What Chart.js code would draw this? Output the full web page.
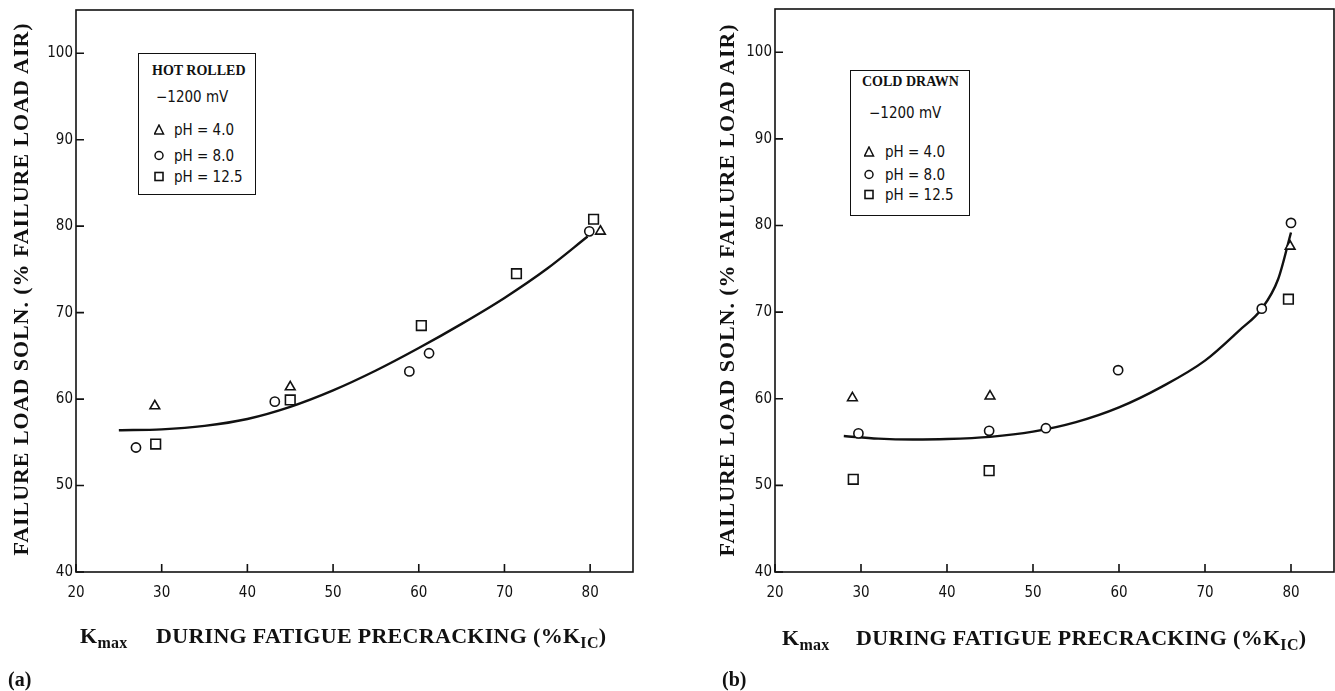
<!DOCTYPE html>
<html>
<head>
<meta charset="utf-8">
<script src="https://cdn.jsdelivr.net/npm/chart.js@4.4.1/dist/chart.umd.min.js"></script>
<style>
  body { margin: 0; background: #fff; overflow: hidden; }
  #page { position: relative; width: 1335px; height: 691px; }
  canvas { position: absolute; top: 0; }
  .ytitle {
    position: absolute; width: 560px; height: 24px; line-height: 24px;
    text-align: center; white-space: nowrap; transform: rotate(-90deg);
    font: bold 22px 'Liberation Serif', serif; letter-spacing: 0.95px; color: #111;
  }
  .xtitle {
    position: absolute; white-space: nowrap; line-height: 24px; letter-spacing: 0.3px;
    font: bold 22px 'Liberation Serif', serif; color: #111;
  }
  .xtitle sub { font-size: 16px; vertical-align: -5px; line-height: 0; }
  .panel { position: absolute; font: bold 20px 'Liberation Serif', serif; color: #111; }
  .legend { position: absolute; border: 1.6px solid #111; background: #fff; color: #111; }
  .legend div { position: absolute; white-space: nowrap; line-height: 18px; }
  .legend .head { font: bold 14px 'Liberation Serif', serif; }
  .legend .mv, .legend .row { font: 15px 'DejaVu Sans Condensed', 'Liberation Sans Narrow', sans-serif; }
  .legend svg { position: absolute; }
</style>
</head>
<body>
<div id="page">
  <canvas id="chartA" width="667" height="691" style="left:0"></canvas>
  <canvas id="chartB" width="668" height="691" style="left:667px"></canvas>

  <div class="ytitle" style="left:-260px; top:277px">FAILURE LOAD SOLN. (% FAILURE LOAD AIR)</div>
  <div class="ytitle" style="left:446px; top:278px">FAILURE LOAD SOLN. (% FAILURE LOAD AIR)</div>

  <div class="xtitle" style="left:80px; top:623px">K<sub>max</sub></div>
  <div class="xtitle" style="left:156px; top:623px">DURING FATIGUE PRECRACKING (%K<sub>IC</sub>)</div>
  <div class="xtitle" style="left:782px; top:625px">K<sub>max</sub></div>
  <div class="xtitle" style="left:856px; top:625px">DURING FATIGUE PRECRACKING (%K<sub>IC</sub>)</div>

  <div class="panel" style="left:8px; top:668px">(a)</div>
  <div class="panel" style="left:722px; top:668px">(b)</div>

  <div class="legend" id="legendA" style="left:138px; top:53px; width:116px; height:140px"></div>
  <div class="legend" id="legendB" style="left:850px; top:70px; width:118px; height:144px"></div>
</div>

<script>
// axis ticks
const xTicks = [20, 30, 40, 50, 60, 70, 80];
const yTicks = [40, 50, 60, 70, 80, 90, 100];
const seriesLabels = ['pH = 4.0', 'pH = 8.0', 'pH = 12.5'];
const seriesStyles = ['triangle', 'circle', 'rect'];

// (a) hot rolled
const hotPh4X = [29.2, 45.0, 81.2];
const hotPh4Y = [59.2, 61.4, 79.4];
const hotPh8X = [27.0, 43.2, 58.9, 61.2, 79.9];
const hotPh8Y = [54.4, 59.7, 63.2, 65.3, 79.4];
const hotPh125X = [29.3, 45.0, 60.3, 71.4, 80.4];
const hotPh125Y = [54.8, 59.9, 68.5, 74.5, 80.8];
const hotFitX = [25, 30, 35, 40, 45, 50, 55, 60, 65, 70, 75, 79.7];
const hotFitY = [56.4, 56.5, 56.9, 57.7, 59.1, 61.0, 63.3, 65.9, 68.7, 71.7, 75.1, 78.8];

// (b) cold drawn
const coldPh4X = [29.0, 45.0, 79.9];
const coldPh4Y = [60.1, 60.3, 77.6];
const coldPh8X = [29.7, 44.9, 51.5, 59.9, 76.6, 80.0];
const coldPh8Y = [56.0, 56.3, 56.6, 63.3, 70.4, 80.3];
const coldPh125X = [29.1, 44.9, 79.7];
const coldPh125Y = [50.7, 51.7, 71.5];
const coldFitX = [28, 32, 36, 40, 45, 50, 55, 60, 65, 70, 74, 76.6, 78.5, 80];
const coldFitY = [55.7, 55.4, 55.3, 55.35, 55.6, 56.2, 57.3, 59.0, 61.4, 64.4, 67.9, 70.4, 73.8, 79.2];

const ink = '#111';
const tickFont = { family: "'DejaVu Sans Condensed', 'Liberation Sans Narrow', sans-serif", size: 15 };

function pts(xs, ys) {
    return xs.map((x, i) => ({ x: x, y: ys[i] }));
}

// frame round the plot and short ticks pointing inwards
const framePlugin = {
    id: 'frame',
    afterDraw(chart) {
        const { ctx, chartArea: a, scales } = chart;
        ctx.save();
        ctx.strokeStyle = ink;
        ctx.lineWidth = 1.6;
        ctx.strokeRect(a.left, a.top, a.right - a.left, a.bottom - a.top);
        ctx.beginPath();
        for (const t of scales.x.ticks) {
            const px = scales.x.getPixelForValue(t.value);
            ctx.moveTo(px, a.bottom);
            ctx.lineTo(px, a.bottom - 8);
        }
        for (const t of scales.y.ticks) {
            const py = scales.y.getPixelForValue(t.value);
            ctx.moveTo(a.left, py);
            ctx.lineTo(a.left + 8, py);
        }
        ctx.stroke();
        ctx.restore();
    }
};

function makeChart(id, series, fit, yWidth, pad) {
    const datasets = series.map((s, i) => ({
        type: 'scatter',
        label: seriesLabels[i],
        data: pts(s[0], s[1]),
        pointStyle: seriesStyles[i],
        pointRadius: i === 2 ? 6.8 : (i === 0 ? 5.6 : 4.6),
        pointBorderWidth: 1.6,
        pointBorderColor: ink,
        pointBackgroundColor: '#fff',
        order: 0
    }));
    datasets.push({
        type: 'line',
        label: 'fit',
        data: pts(fit[0], fit[1]),
        borderColor: ink,
        borderWidth: 2.4,
        pointRadius: 0,
        cubicInterpolationMode: 'monotone',
        fill: false,
        order: 10
    });

    return new Chart(document.getElementById(id), { // eslint-disable-line
        type: 'scatter',
        data: { datasets: datasets },
        options: {
            responsive: false,
            animation: false,
            events: [],
            layout: { padding: pad, autoPadding: false },
            plugins: { legend: { display: false }, tooltip: { enabled: false } },
            scales: {
                x: {
                    type: 'linear',
                    min: 20,
                    max: 85,
                    afterBuildTicks: s => { s.ticks = xTicks.map(v => ({ value: v })); },
                    afterFit: s => { s.height = 119; s.paddingLeft = 0; s.paddingRight = 0; },
                    grid: { display: false, drawTicks: false },
                    border: { display: false },
                    ticks: { color: ink, font: tickFont, padding: 12, maxRotation: 0 }
                },
                y: {
                    type: 'linear',
                    min: 40,
                    max: 105,
                    afterBuildTicks: s => { s.ticks = yTicks.map(v => ({ value: v })); },
                    afterFit: s => { s.width = yWidth; s.paddingTop = 0; s.paddingBottom = 0; },
                    grid: { display: false, drawTicks: false },
                    border: { display: false },
                    ticks: { color: ink, font: tickFont, padding: 3 }
                }
            }
        },
        plugins: [framePlugin]
    });
}

makeChart('chartA',
    [[hotPh4X, hotPh4Y], [hotPh8X, hotPh8Y], [hotPh125X, hotPh125Y]],
    [hotFitX, hotFitY], 76, { top: 10, right: 34, left: 0, bottom: 0 });

makeChart('chartB',
    [[coldPh4X, coldPh4Y], [coldPh8X, coldPh8Y], [coldPh125X, coldPh125Y]],
    [coldFitX, coldFitY], 108, { top: 9, right: 1, left: 0, bottom: 0 });

// legend boxes
const symbols = [
    '<polygon points="5,1 9.5,10 0.5,10" fill="none" stroke="#111" stroke-width="1.5"/>',
    '<circle cx="5" cy="5.5" r="4" fill="none" stroke="#111" stroke-width="1.5"/>',
    '<rect x="1" y="1.5" width="8" height="8" fill="none" stroke="#111" stroke-width="1.6"/>'
];

function fillLegend(id, head, lay) {
    const box = document.getElementById(id);
    let html = '<div class="head" style="left:' + lay.headX + 'px;top:' + (lay.headY - 9) + 'px">' + head + '</div>';
    html += '<div class="mv" style="left:' + lay.mvX + 'px;top:' + (lay.mvY - 9) + 'px">\u22121200 mV</div>';
    seriesLabels.forEach((lab, i) => {
        const cy = lay.rows[i];
        html += '<svg width="11" height="11" style="left:' + (lay.symX - 5) + 'px;top:' + (cy - 6) + 'px">' + symbols[i] + '</svg>';
        html += '<div class="row" style="left:' + lay.textX + 'px;top:' + (cy - 9) + 'px">' + lab + '</div>';
    });
    box.innerHTML = html;
}

fillLegend('legendA', 'HOT ROLLED', { headX: 13, headY: 18, mvX: 17, mvY: 43, symX: 20, textX: 35, rows: [76, 102, 123] });
fillLegend('legendB', 'COLD DRAWN', { headX: 11, headY: 12, mvX: 18, mvY: 42, symX: 18, textX: 34, rows: [81, 104, 124] });
</script>
</body>
</html>
